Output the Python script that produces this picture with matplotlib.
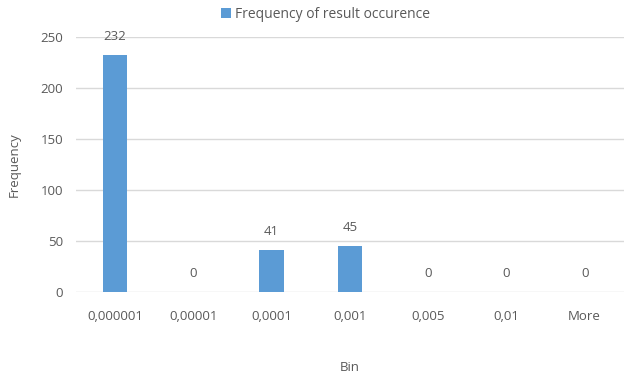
import numpy as np
import matplotlib
matplotlib.use("Agg")
import matplotlib.pyplot as plt

# histogram bins and counts
bins = ["0,000001", "0,00001", "0,0001", "0,001", "0,005", "0,01", "More"]
counts = [232, 0, 41, 45, 0, 0, 0]
yticks = [0, 50, 100, 150, 200, 250]

text_col = "#595959"
bar_col = "#5B9BD5"
grid_col = "#D9D9D9"

plt.rcParams["font.family"] = ["Open Sans", "DejaVu Sans"]

fig = plt.figure(figsize=(6.32, 3.79), dpi=100)
ax = fig.add_axes([0.120, 0.2296, 0.867, 0.6728])

x = np.arange(len(bins))
bars = ax.bar(x, counts, width=0.31, color=bar_col, zorder=3,
              label="Frequency of result occurence")

for xi, c in zip(x, counts):
    ax.text(xi, c + 12, str(c), ha="center", va="bottom", fontsize=9.5, color=text_col)

ax.set_xlim(-0.5, len(bins) - 0.5)
ax.set_ylim(0, 250)
ax.set_yticks(yticks)
ax.set_xticks(x)
ax.set_xticklabels(bins)
ax.tick_params(axis="both", length=0, labelsize=9.5, labelcolor=text_col)
ax.tick_params(axis="x", pad=13)
ax.tick_params(axis="y", pad=9)

ax.grid(axis="y", color=grid_col, linewidth=1, zorder=0)
for s in ax.spines.values():
    s.set_visible(False)

ax.set_xlabel("Bin", fontsize=9.5, color=text_col, labelpad=27)
ax.set_ylabel("Frequency", fontsize=9.5, color=text_col, labelpad=14)

fig.legend(loc="upper center", bbox_to_anchor=(0.515, 1.015), frameon=False,
           fontsize=10, labelcolor=text_col, handlelength=0.7, handleheight=0.7,
           handletextpad=0.3)

fig.savefig("out.png", dpi=100)
